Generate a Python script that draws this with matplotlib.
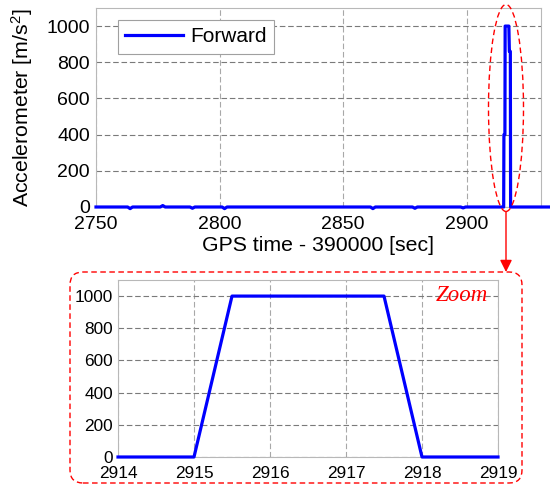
import matplotlib
matplotlib.use("Agg")
import matplotlib.pyplot as plt
from matplotlib.patches import Ellipse, FancyBboxPatch, FancyArrowPatch

plt.rcParams['font.family'] = ['Liberation Sans', 'DejaVu Sans']
plt.rcParams['mathtext.fontset'] = 'custom'
plt.rcParams['mathtext.rm'] = 'Liberation Sans'
plt.rcParams['mathtext.it'] = 'Liberation Sans:italic'

# ---- data ----
t_main = [2750, 2762.8, 2763.8, 2764.8, 2776, 2777, 2778, 2788, 2789, 2790,
          2801, 2802, 2803, 2861, 2862, 2863, 2878, 2879, 2880, 2897.5, 2898.5, 2899.5,
          2914.9, 2915.0, 2915.4, 2915.5, 2917.0, 2917.2, 2917.6, 2917.7, 2935]
a_main = [0, 0, -9, 0, 0, 8, 0, 0, -7, 0,
          0, -9, 0, 0, -9, 0, 0, -7, 0, 0, -5, 0,
          0, 400, 400, 1000, 1000, 860, 860, 0, 0]

t_zoom = [2914, 2915, 2915.5, 2917.5, 2918, 2919]
a_zoom = [0, 0, 1000, 1000, 0, 0]

main_xticks = [2750, 2800, 2850, 2900]
main_yticks = [0, 200, 400, 600, 800, 1000]
zoom_xticks = [2914, 2915, 2916, 2917, 2918, 2919]
zoom_yticks = [0, 200, 400, 600, 800, 1000]

W, H = 550, 492
fig = plt.figure(figsize=(W / 100, H / 100), dpi=100)

def ax_rect(left, top, right, bottom):
    return [left / W, 1 - bottom / H, (right - left) / W, (bottom - top) / H]

blue = '#0000FF'
red = '#FF0000'
hgrid = dict(color='#7a7a7a', linestyle=(0, (5, 2.5)), linewidth=0.8)
vgrid = dict(color='#a8a8a8', linestyle=(0, (5, 2.5)), linewidth=0.8)

# ---- main axes ----
ax = fig.add_axes(ax_rect(96, 8, 541, 207))
ax.plot(t_main, a_main, color=blue, lw=2.3, label='Forward', clip_on=False, zorder=3)
ax.set_xlim(2750, 2930)
ax.set_ylim(0, 1100)
ax.set_xticks(main_xticks)
ax.set_yticks(main_yticks)
ax.grid(True, axis='y', **hgrid)
ax.grid(True, axis='x', **vgrid)
ax.tick_params(length=0, labelsize=14)
ax.tick_params(axis='x', pad=6.5)
ax.tick_params(axis='y', pad=4.3)
for s in ax.spines.values():
    s.set_color('#b8b8b8')
ax.set_xlabel('GPS time - 390000 [sec]', fontsize=15.3, labelpad=2)
ax.set_ylabel('Accelerometer [m/s$^2$]', fontsize=15.3)
ax.yaxis.set_label_coords(-0.137, 0.5)
leg = ax.legend(loc='upper left', bbox_to_anchor=(0.0488, 0.94), borderaxespad=0,
                fontsize=15, handlelength=2.8, fancybox=False, framealpha=1,
                edgecolor='#a0a0a0', borderpad=0.35, handletextpad=0.35)
leg.get_frame().set_linewidth(0.8)

# ---- zoom axes ----
az = fig.add_axes(ax_rect(118, 280, 498, 457))
az.plot(t_zoom, a_zoom, color=blue, lw=2.3, clip_on=False, zorder=3)
az.set_xlim(2914, 2919)
az.set_ylim(0, 1100)
az.set_xticks(zoom_xticks)
az.set_yticks(zoom_yticks)
az.grid(True, axis='y', **hgrid)
az.grid(True, axis='x', **vgrid)
az.tick_params(length=0, labelsize=12.4)
az.tick_params(axis='x', pad=6.3)
az.tick_params(axis='y', pad=3.6)
for s in az.spines.values():
    s.set_color('#b8b8b8')
az.text(0.974, 0.88, 'Zoom', transform=az.transAxes, ha='right', va='baseline',
        color=red, fontsize=16.5, fontstyle='italic', family='Liberation Serif')

# ---- annotations ----
ell = Ellipse((506 / 100, (H - 108) / 100), 35 / 100, 207 / 100,
              transform=fig.dpi_scale_trans, fill=False, edgecolor=red,
              linestyle=(0, (4, 2.5)), linewidth=1.0, zorder=10)
fig.patches.append(ell)

box = FancyBboxPatch((70 / 100, (H - 483) / 100), 452 / 100, 211 / 100,
                     boxstyle='round,pad=0,rounding_size=0.13',
                     transform=fig.dpi_scale_trans, fill=False, edgecolor=red,
                     linestyle=(0, (4, 2.5)), linewidth=1.0, zorder=10)
fig.patches.append(box)

fig.add_artist(FancyArrowPatch(
    (506, H - 212), (506, H - 272), transform=None,
    arrowstyle='-|>,head_length=0.6,head_width=0.3', mutation_scale=12,
    color=red, lw=1.0, zorder=10, shrinkA=0, shrinkB=0))

fig.savefig('out.png', dpi=100)
